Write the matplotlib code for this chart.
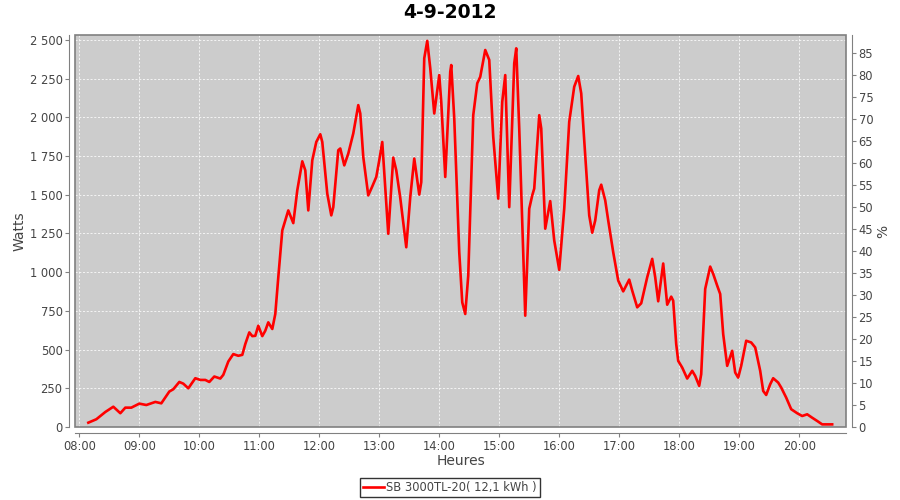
import matplotlib
matplotlib.use("Agg")
import matplotlib.pyplot as plt
import matplotlib.dates as mdates
from matplotlib.patches import Rectangle
from matplotlib.ticker import FuncFormatter
import pandas as pd

title = "4-9-2012"
series_label = "SB 3000TL-20( 12,1 kWh )"

times = ["08:09", "08:17", "08:26", "08:34", "08:41", "08:46", "08:52", "09:00", "09:07", "09:16",
         "09:22", "09:30", "09:34", "09:40", "09:44", "09:49", "09:56", "10:01", "10:06", "10:10",
         "10:15", "10:21", "10:24", "10:29", "10:34", "10:39", "10:43", "10:46", "10:50", "10:53",
         "10:56", "10:59", "11:03", "11:06", "11:09", "11:13", "11:16", "11:19", "11:23", "11:29",
         "11:34", "11:38", "11:43", "11:46", "11:49", "11:53", "11:57", "12:01", "12:03", "12:08",
         "12:12", "12:14", "12:19", "12:21", "12:25", "12:29", "12:34", "12:39", "12:41", "12:44",
         "12:49", "12:53", "12:57", "13:00", "13:03", "13:09", "13:14", "13:17", "13:21", "13:24",
         "13:27", "13:31", "13:35", "13:40", "13:42", "13:45", "13:48", "13:51", "13:55", "14:00",
         "14:02", "14:06", "14:11", "14:12", "14:15", "14:20", "14:23", "14:26", "14:29", "14:34",
         "14:38", "14:41", "14:46", "14:50", "14:54", "14:59", "15:03", "15:06", "15:10", "15:15",
         "15:17", "15:20", "15:26", "15:30", "15:33", "15:35", "15:40", "15:42", "15:46", "15:51",
         "15:55", "16:00", "16:05", "16:10", "16:15", "16:19", "16:22", "16:25", "16:30", "16:33",
         "16:36", "16:40", "16:42", "16:46", "16:49", "16:54", "16:59", "17:04", "17:10", "17:13",
         "17:18", "17:22", "17:28", "17:33", "17:36", "17:39", "17:44", "17:48", "17:52", "17:54",
         "17:57", "17:59", "18:03", "18:08", "18:13", "18:16", "18:20", "18:22", "18:26", "18:31",
         "18:34", "18:38", "18:41", "18:44", "18:48", "18:53", "18:56", "18:59", "19:02", "19:07",
         "19:12", "19:16", "19:21", "19:24", "19:27", "19:31", "19:34", "19:39", "19:42", "19:47",
         "19:52", "19:58", "20:03", "20:08", "20:13", "20:18", "20:23", "20:33"]

watts = [28, 50, 97, 131, 89, 125, 125, 151, 142, 162,
         153, 229, 244, 291, 280, 250, 315, 304, 304, 291,
         326, 313, 337, 423, 471, 460, 466, 536, 611, 587,
         589, 654, 587, 622, 676, 633, 730, 967, 1270, 1399,
         1317, 1529, 1716, 1658, 1399, 1723, 1841, 1891, 1841, 1507,
         1367, 1420, 1788, 1799, 1690, 1766, 1896, 2079, 2025, 1744,
         1496, 1554, 1615, 1723, 1841, 1248, 1740, 1658, 1480, 1320,
         1161, 1485, 1734, 1501, 1582, 2382, 2494, 2317, 2025, 2273,
         2100, 1615, 2295, 2338, 1993, 1129, 805, 730, 978, 2014,
         2220, 2262, 2435, 2371, 1874, 1475, 2100, 2273, 1420, 2349,
         2446, 1928, 719, 1410, 1496, 1540, 2014, 1928, 1281, 1459,
         1205, 1015, 1410, 1971, 2198, 2267, 2155, 1852, 1367, 1255,
         1334, 1529, 1565, 1464, 1334, 1129, 946, 876, 952, 881,
         773, 799, 967, 1086, 967, 812, 1056, 790, 842, 816,
         536, 427, 384, 313, 363, 330, 266, 341, 892, 1036,
         989, 913, 859, 600, 395, 492, 352, 319, 395, 557,
         546, 514, 363, 233, 207, 276, 315, 287, 255, 190,
         115, 89, 71, 82, 60, 39, 17, 17]

left_ticks = list(range(0, 2501, 250))
right_ticks = list(range(0, 86, 5))

dt = pd.to_datetime(["2012-09-04 " + t for t in times])

fig = plt.figure(figsize=(9, 5), dpi=100)
fig.patch.set_facecolor("white")
ax = fig.add_axes([75 / 900, 1 - 427 / 500, 771 / 900, 392 / 500])
ax.set_facecolor("#CCCCCC")

ax.plot(dt, watts, color="#FF0000", lw=1.9, solid_joinstyle="round", zorder=3)

ax.set_xlim(pd.Timestamp("2012-09-04 07:55:40"), pd.Timestamp("2012-09-04 20:46:50"))
ax.set_ylim(0, 2532)
ax.xaxis.set_major_locator(mdates.HourLocator())
ax.xaxis.set_major_formatter(mdates.DateFormatter("%H:%M"))
ax.set_yticks(left_ticks)
ax.yaxis.set_major_formatter(FuncFormatter(lambda v, p: f"{int(v):,}".replace(",", " ")))

ax.grid(True, color="white", lw=0.6, ls=(0, (2.5, 2)), alpha=0.9)
ax.set_axisbelow(True)

tick_col = "#444444"
spine_col = "#808080"
for s in ["top", "right"]:
    ax.spines[s].set_visible(False)
for s in ["left", "bottom"]:
    ax.spines[s].set_position(("outward", 4))
    ax.spines[s].set_color(spine_col)
ax.tick_params(axis="both", direction="out", length=3, width=0.8, color=spine_col,
               labelcolor=tick_col, labelsize=8.3, pad=2)

# plot frame
ax.add_patch(Rectangle((0, 0), 1, 1, transform=ax.transAxes, fill=False,
                       edgecolor=spine_col, lw=1.2, clip_on=False, zorder=5))

ax2 = ax.twinx()
ax2.set_ylim(0, 89)
ax2.set_yticks(right_ticks)
for s in ["top", "left", "bottom"]:
    ax2.spines[s].set_visible(False)
ax2.spines["right"].set_position(("outward", 4))
ax2.spines["right"].set_color(spine_col)
ax2.tick_params(axis="y", direction="out", length=3, width=0.8, color=spine_col,
                labelcolor=tick_col, labelsize=8.3, pad=2)

ax.set_ylabel("Watts", fontsize=10, color="#444444", labelpad=2)
ax.set_xlabel("Heures", fontsize=10, color="#444444", labelpad=1)
ax2.set_ylabel("%", fontsize=10, color="#444444", labelpad=2)

fig.text(0.5, 1 - 13 / 500, title, ha="center", va="center", fontsize=13.5, fontweight="bold")

leg = fig.legend(handles=ax.lines, labels=[series_label], loc="center",
                 bbox_to_anchor=(450 / 900, 1 - 487.5 / 500), fontsize=8.3, frameon=True,
                 fancybox=False, edgecolor="black", handlelength=1.8, handletextpad=0.2,
                 borderpad=0.3, borderaxespad=0)
leg.get_frame().set_linewidth(1.0)
for t in leg.get_texts():
    t.set_color("#444444")

fig.savefig("out.png", dpi=100)
